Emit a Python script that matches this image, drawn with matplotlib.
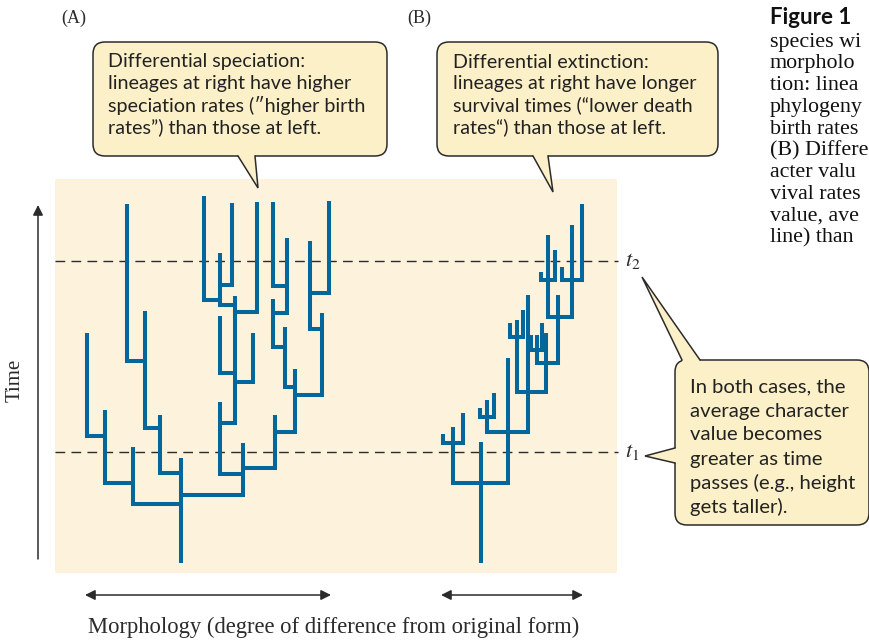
import matplotlib.pyplot as plt
from matplotlib.patches import FancyBboxPatch, Polygon

plt.rcParams['mathtext.fontset'] = 'stix'

SANS = ['Lato', 'DejaVu Sans']
SERIF = ['Liberation Serif', 'DejaVu Serif']

BLUE = '#03679b'
PANEL = '#fdf3dd'
BUBBLE = '#fcf0c9'
INK = '#2b2b2b'

# lineages: (morphology, time of origin, time of end, morphology of parent)
tree_a = [
    (126, 10, 115, None),
    (78, 69, 126, 126),
    (50, 90, 163, 78),
    (32, 137, 240, 50),
    (105, 100, 158, 126),
    (90, 145, 262, 105),
    (72, 212, 369, 90),
    (188, 78, 130, 126),
    (165, 99, 171, 188),
    (180, 150, 277, 165),
    (198, 191, 240, 180),
    (165, 200, 257, 180),
    (202, 261, 371, 180),
    (165, 268, 320, 180),
    (149, 273, 377, 165),
    (177, 288, 370, 165),
    (220, 105, 158, 188),
    (240, 141, 204, 220),
    (267, 178, 260, 240),
    (255, 244, 332, 267),
    (274, 280, 372, 255),
    (230, 186, 246, 240),
    (218, 226, 274, 230),
    (232, 260, 335, 218),
    (218, 287, 371, 232),
]

tree_b = [
    (426, 10, 131, None),
    (398, 90, 146, 426),
    (388, 130, 139, 398),
    (408, 130, 160, 398),
    (453, 90, 215, 426),
    (432, 141, 173, 453),
    (425, 156, 165, 432),
    (439, 156, 180, 432),
    (473, 141, 278, 453),
    (462, 181, 253, 473),
    (455, 236, 250, 462),
    (468, 236, 263, 462),
    (491, 181, 240, 473),
    (482, 210, 238, 491),
    (476, 223, 238, 482),
    (487, 223, 250, 482),
    (503, 210, 278, 491),
    (493, 256, 338, 503),
    (486, 293, 301, 493),
    (500, 293, 323, 493),
    (517, 256, 348, 503),
    (507, 293, 306, 517),
    (527, 293, 369, 517),
]

time_marks = [121, 312]
time_labels = [r'$t_1$', r'$t_2$']

text_a = ['Differential speciation:',
          'lineages at right have higher',
          'speciation rates (\u2033higher birth',
          'rates\u201d) than those at left.']
text_b = ['Differential extinction:',
          'lineages at right have longer',
          'survival times (\u201clower death',
          'rates\u201c) than those at left.']
text_c = ['In both cases, the',
          'average character',
          'value becomes',
          'greater as time',
          'passes (e.g., height',
          'gets taller).']
# caption column as far as it shows before the right edge
caption = ['species wi', 'morpholo', 'tion: linea', 'phylogeny',
           'birth rates', '(B) Differe', 'acter valu', 'vival rates',
           'value, ave', 'line) than']

fig = plt.figure(figsize=(8.7, 6.4), dpi=100)

# beige panel with the two phylogenies
tree_ax = fig.add_axes([55 / 870, 1 - 573 / 640, 562 / 870, 394 / 640])
tree_ax.set_facecolor(PANEL)
tree_ax.set_xlim(0, 562)
tree_ax.set_ylim(0, 394)
tree_ax.set_xticks([])
tree_ax.set_yticks([])
for s in tree_ax.spines.values():
    s.set_visible(False)

for level in time_marks:
    tree_ax.plot([0, 563], [level, level], color=INK, lw=1.0,
                 dashes=(7, 4.5), clip_on=False, zorder=1)

for tree in (tree_a, tree_b):
    for m, t0, t1, pm in tree:
        if pm is None:
            xs, ys = [m, m], [t0, t1]
        else:
            xs, ys = [pm, m, m], [t0, t0, t1]
        tree_ax.plot(xs, ys, color=BLUE, lw=2.9, solid_capstyle='butt',
                     solid_joinstyle='miter', zorder=2)

# overlay in pixel units for labels, arrows and callouts
ax = fig.add_axes([0, 0, 1, 1])
ax.set_xlim(0, 870)
ax.set_ylim(640, 0)
ax.axis('off')

for lab, level in zip(time_labels, time_marks):
    ax.text(625, 573 - level, lab, fontsize=16, color=INK, ha='left', va='center')

ax.text(61, 18, '(A)', fontsize=13, family=SERIF, color=INK, va='center')
ax.text(407, 18, '(B)', fontsize=13, family=SERIF, color=INK, va='center')
ax.text(15, 380, 'Time', fontsize=15, family=SERIF, color=INK, rotation=90,
        ha='center', va='center')
ax.text(88, 627, 'Morphology (degree of difference from original form)',
        fontsize=16.3, family=SERIF, color=INK, va='center')

arrow = dict(lw=1.1, color=INK, mutation_scale=15, shrinkA=0, shrinkB=0)
ax.annotate('', xy=(38, 205), xytext=(38, 559), arrowprops=dict(arrowstyle='-|>', **arrow))
ax.annotate('', xy=(85, 595), xytext=(331, 595), arrowprops=dict(arrowstyle='<|-|>', **arrow))
ax.annotate('', xy=(441, 595), xytext=(583, 595), arrowprops=dict(arrowstyle='<|-|>', **arrow))

# caption column, running into the right edge
ax.text(770, 18, 'Figure 1', fontsize=16, family=SANS, weight='bold', color='#111', va='center')
for i, line in enumerate(caption):
    ax.text(770, 42 + i * 21.8, line, fontsize=15.8, family=SERIF, color='#111', va='center')


def callout(x0, y0, x1, y1, tails, lines, tx, ty, step, size):
    box = FancyBboxPatch((x0, y0), x1 - x0, y1 - y0,
                         boxstyle='round,pad=0,rounding_size=12',
                         fc=BUBBLE, ec=INK, lw=1.1, zorder=3, clip_on=False)
    ax.add_patch(box)
    for b1, tip, b2, inward in tails:
        dx, dy = inward
        fill = Polygon([(b1[0] + dx, b1[1] + dy), b1, tip, b2, (b2[0] + dx, b2[1] + dy)],
                       closed=True, fc=BUBBLE, ec='none', zorder=4)
        ax.add_patch(fill)
        ax.plot([b1[0], tip[0], b2[0]], [b1[1], tip[1], b2[1]], color=INK, lw=1.1,
                solid_joinstyle='miter', zorder=5)
    for i, line in enumerate(lines):
        ax.text(tx, ty + i * step, line, fontsize=size, family=SANS, color='#222',
                va='center', zorder=6)


callout(93, 42, 387, 156, [((238, 156), (258, 188), (255, 156), (0, -4))],
        text_a, 108, 62, 21.7, 14.2)
callout(437, 42, 718, 156, [((533, 156), (553, 192), (548, 156), (0, -4))],
        text_b, 453, 62, 21.7, 14.2)
callout(675, 360, 869, 525,
        [((682, 360), (642, 277), (700, 360), (0, 4)),
         ((675, 448), (645, 456), (675, 463), (4, 0))],
        text_c, 690, 387, 24, 14.6)

fig.savefig('out.png', dpi=100)
